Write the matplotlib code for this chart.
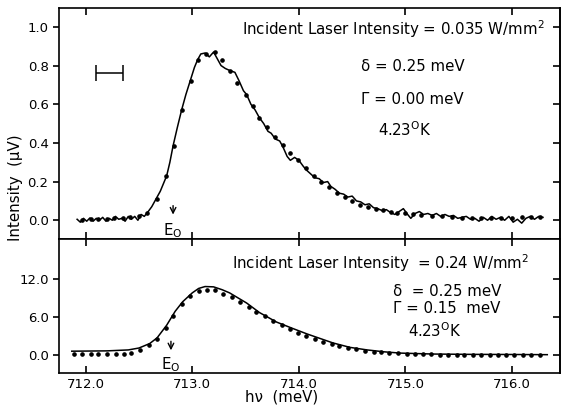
import matplotlib
matplotlib.use('Agg')
import matplotlib.pyplot as plt

# upper panel: measured spectrum (line) and calculated points
top_line_x = [711.92, 711.95, 711.98, 712.01, 712.04, 712.07, 712.10, 712.13, 712.16,
              712.19, 712.22, 712.25, 712.28, 712.31, 712.34, 712.37, 712.40, 712.43,
              712.46, 712.49, 712.52, 712.55, 712.58, 712.62, 712.66, 712.70, 712.73,
              712.76, 712.79, 712.82, 712.86, 712.90, 712.94, 712.98, 713.02, 713.05,
              713.08, 713.12, 713.16, 713.20, 713.23, 713.27, 713.31, 713.35, 713.40,
              713.44, 713.48, 713.51, 713.55, 713.59, 713.63, 713.67, 713.71, 713.74,
              713.78, 713.82, 713.85, 713.89, 713.92, 713.96, 714.00, 714.04, 714.07,
              714.11, 714.15, 714.19, 714.23, 714.27, 714.30, 714.34, 714.38, 714.42,
              714.46, 714.50, 714.54, 714.58, 714.62, 714.66, 714.70, 714.74, 714.78,
              714.82, 714.86, 714.90, 714.94, 714.98, 715.02, 715.05, 715.09, 715.13,
              715.17, 715.21, 715.25, 715.29, 715.33, 715.37, 715.41, 715.45, 715.49,
              715.53, 715.57, 715.61, 715.65, 715.69, 715.73, 715.77, 715.81, 715.85,
              715.89, 715.93, 715.97, 716.01, 716.05, 716.09, 716.13, 716.17, 716.21,
              716.25, 716.29]
top_line_y = [0.005, -0.010, 0.010, -0.005, 0.012, -0.005, 0.010, 0.000, 0.015,
              -0.005, 0.010, 0.000, 0.020, 0.005, 0.010, -0.005, 0.020, 0.005,
              0.020, 0.000, 0.030, 0.020, 0.040, 0.070, 0.110, 0.150, 0.190,
              0.230, 0.300, 0.385, 0.480, 0.570, 0.650, 0.720, 0.790, 0.830,
              0.860, 0.865, 0.845, 0.870, 0.840, 0.800, 0.785, 0.775, 0.765,
              0.720, 0.670, 0.650, 0.600, 0.570, 0.530, 0.500, 0.460, 0.450,
              0.420, 0.410, 0.380, 0.330, 0.310, 0.325, 0.310, 0.280, 0.260,
              0.240, 0.220, 0.215, 0.195, 0.200, 0.175, 0.160, 0.140, 0.135,
              0.120, 0.125, 0.100, 0.095, 0.080, 0.085, 0.065, 0.060, 0.050,
              0.055, 0.040, 0.030, 0.045, 0.060, 0.030, 0.010, 0.035, 0.045,
              0.030, 0.035, 0.025, 0.035, 0.020, 0.030, 0.020, 0.025, 0.010,
              0.015, 0.020, 0.005, 0.010, -0.005, 0.015, 0.000, 0.020, 0.005,
              0.015, 0.000, 0.020, -0.010, 0.005, -0.015, 0.010, 0.020, 0.005,
              0.020, 0.015]

top_dot_x = [711.97, 712.05, 712.12, 712.20, 712.27, 712.35, 712.42, 712.50, 712.58,
             712.67, 712.75, 712.83, 712.90, 712.99, 713.05, 713.13, 713.21, 713.28,
             713.35, 713.42, 713.50, 713.57, 713.63, 713.70, 713.78, 713.85, 713.92,
             713.99, 714.07, 714.14, 714.21, 714.28, 714.36, 714.43, 714.50, 714.57,
             714.65, 714.72, 714.79, 714.86, 714.92, 715.00, 715.07, 715.15, 715.25,
             715.34, 715.44, 715.53, 715.62, 715.71, 715.80, 715.90, 716.00, 716.09,
             716.18, 716.26]
top_dot_y = [0.000, 0.005, 0.005, 0.005, 0.010, 0.010, 0.015, 0.020, 0.040,
             0.110, 0.230, 0.385, 0.570, 0.720, 0.830, 0.860, 0.870, 0.830,
             0.770, 0.710, 0.650, 0.590, 0.530, 0.480, 0.430, 0.390, 0.350,
             0.310, 0.270, 0.230, 0.200, 0.170, 0.140, 0.120, 0.100, 0.080,
             0.070, 0.060, 0.055, 0.045, 0.035, 0.035, 0.030, 0.025, 0.020,
             0.020, 0.015, 0.010, 0.010, 0.010, 0.010, 0.010, 0.010, 0.015,
             0.015, 0.015]

# lower panel
bot_line_x = [711.87, 712.20, 712.40, 712.50, 712.60, 712.67, 712.76, 712.84, 712.91,
              713.00, 713.06, 713.12, 713.20, 713.28, 713.35, 713.43, 713.51, 713.63,
              713.79, 713.94, 714.08, 714.20, 714.32, 714.48, 714.64, 714.80, 714.95,
              715.26, 715.60, 716.00, 716.33]
bot_line_y = [0.60, 0.65, 0.80, 1.10, 1.80, 2.70, 4.70, 6.90, 8.40,
              9.80, 10.50, 10.80, 10.75, 10.30, 9.80, 9.00, 8.20, 6.70,
              5.20, 4.20, 3.30, 2.60, 1.90, 1.20, 0.80, 0.50, 0.30,
              0.15, 0.10, 0.08, 0.05]

bot_dot_x = [711.89, 711.97, 712.05, 712.12, 712.20, 712.28, 712.36, 712.43, 712.51,
             712.59, 712.67, 712.75, 712.82, 712.90, 712.98, 713.06, 713.14, 713.21,
             713.29, 713.37, 713.45, 713.53, 713.60, 713.68, 713.76, 713.84, 713.92,
             713.99, 714.07, 714.15, 714.23, 714.31, 714.38, 714.46, 714.54, 714.62,
             714.70, 714.77, 714.85, 714.93, 715.01, 715.09, 715.16, 715.24, 715.32,
             715.40, 715.48, 715.55, 715.63, 715.71, 715.79, 715.87, 715.94, 716.02,
             716.10, 716.18, 716.26]
bot_dot_y = [0.15, 0.15, 0.15, 0.15, 0.15, 0.15, 0.15, 0.30, 0.80,
             1.60, 2.60, 4.30, 6.20, 8.00, 9.30, 10.10, 10.30, 10.20,
             9.70, 9.10, 8.40, 7.60, 6.80, 6.10, 5.40, 4.70, 4.10,
             3.50, 3.00, 2.50, 2.10, 1.70, 1.40, 1.10, 0.90, 0.70,
             0.55, 0.45, 0.35, 0.25, 0.20, 0.15, 0.10, 0.10, 0.05,
             0.05, 0.05, 0.05, 0.05, 0.05, 0.05, 0.05, 0.05, 0.05,
             0.05, 0.05, 0.05]

x_ticks = [712.0, 713.0, 714.0, 715.0, 716.0]
top_yticks = [0.0, 0.2, 0.4, 0.6, 0.8, 1.0]
bot_yticks = [0.0, 6.0, 12.0]

plt.rcParams['font.family'] = ['DejaVu Sans']
plt.rcParams['mathtext.fontset'] = 'dejavusans'
fs = 10.8
fig = plt.figure(figsize=(5.63, 4.08), dpi=100)
ax1 = fig.add_axes([0.1048, 0.4142, 0.890, 0.5658])
ax2 = fig.add_axes([0.1048, 0.0858, 0.890, 0.3284])

for ax, yt in ((ax1, top_yticks), (ax2, bot_yticks)):
    ax.set_xlim(711.75, 716.45)
    ax.set_xticks(x_ticks)
    for s in ax.spines.values():
        s.set_linewidth(1.2)
    ax.tick_params(axis='x', direction='in', length=5, width=1.2,
                   top=True, bottom=True)
    ax.tick_params(axis='y', direction='out', length=4, width=1.2,
                   left=True, right=False, labelsize=9.5)
    sec = ax.secondary_yaxis('right')
    sec.set_yticks(yt)
    sec.tick_params(direction='in', length=5, width=1.2, labelright=False)
    sec.spines['right'].set_linewidth(1.2)

ax1.plot(top_line_x, top_line_y, color='black', lw=1.1)
ax1.plot(top_dot_x, top_dot_y, 'o', color='black', ms=2.3)
ax1.set_ylim(-0.097, 1.097)
ax1.set_yticks(top_yticks)
ax1.set_yticklabels(['%.1f' % v for v in top_yticks])
ax1.tick_params(axis='x', labelbottom=False)

# resolution bar
ax1.errorbar([712.225], [0.76], xerr=[0.125], color='black', lw=1.1,
             capsize=6, capthick=1.1, fmt='none')

ax1.annotate('', xy=(712.82, 0.015), xytext=(712.82, 0.09),
             arrowprops=dict(arrowstyle='->', color='black', lw=1.0))
ax1.text(712.82, -0.055, r'E$_\mathrm{O}$', ha='center', va='center', fontsize=fs)

ax1.text(713.47, 0.99, 'Incident Laser Intensity = 0.035 W/mm$^2$',
         ha='left', va='center', fontsize=fs)
ax1.text(714.58, 0.795, '\u03b4 = 0.25 meV', ha='left', va='center', fontsize=fs)
ax1.text(714.58, 0.625, '\u0393 = 0.00 meV', ha='left', va='center', fontsize=fs)
ax1.text(714.74, 0.47, '4.23$^\\mathrm{O}$K', ha='left', va='center', fontsize=fs)

ax2.plot(bot_line_x, bot_line_y, color='black', lw=1.1)
ax2.plot(bot_dot_x, bot_dot_y, 'o', color='black', ms=2.3)
ax2.set_ylim(-2.84, 18.3)
ax2.set_yticks(bot_yticks)
ax2.set_yticklabels(['%.1f' % v for v in bot_yticks])
ax2.set_xticklabels(['%.1f' % v for v in x_ticks], fontsize=9.5)

ax2.annotate('', xy=(712.80, 0.3), xytext=(712.80, 2.6),
             arrowprops=dict(arrowstyle='->', color='black', lw=1.0))
ax2.text(712.80, -1.6, r'E$_\mathrm{O}$', ha='center', va='center', fontsize=fs)

ax2.text(713.37, 14.5, 'Incident Laser Intensity  = 0.24 W/mm$^2$',
         ha='left', va='center', fontsize=fs)
ax2.text(714.88, 9.95, '\u03b4  = 0.25 meV', ha='left', va='center', fontsize=fs)
ax2.text(714.88, 7.4, '\u0393 = 0.15  meV', ha='left', va='center', fontsize=fs)
ax2.text(715.02, 3.9, '4.23$^\\mathrm{O}$K', ha='left', va='center', fontsize=fs)

fig.text(0.027, 0.54, 'Intensity  (\u03bcV)', rotation=90, ha='center',
         va='center', fontsize=fs)
fig.text(0.50, 0.027, 'h\u03bd  (meV)', ha='center', va='center', fontsize=fs)

fig.savefig('out.png', dpi=100)
